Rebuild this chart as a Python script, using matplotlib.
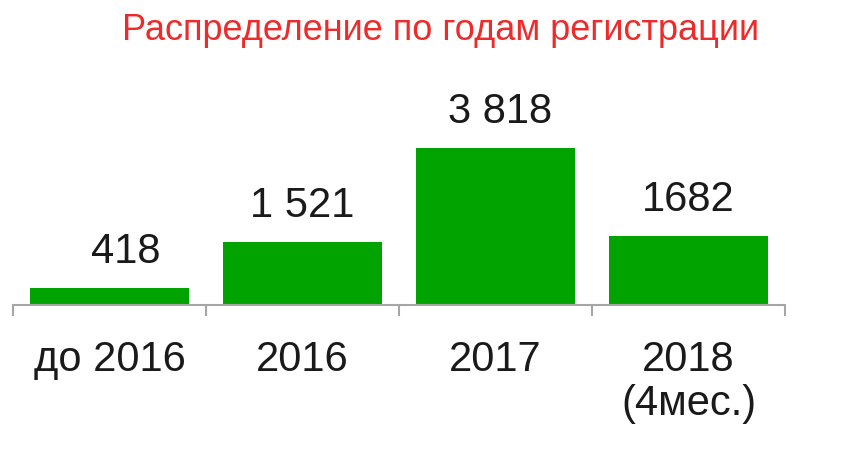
import matplotlib.pyplot as plt

categories = ["до 2016", "2016", "2017", "2018\n(4мес.)"]
values = [418, 1521, 3818, 1682]
value_labels = ["418", "1 521", "3 818", "1682"]

plt.rcParams["font.family"] = ["Liberation Sans", "DejaVu Sans"]

fig = plt.figure(figsize=(8.5, 4.61), dpi=100)
ax = fig.add_axes([13 / 850, 1 - 305 / 461, 772 / 850, 206 / 461])

x = range(len(categories))
bars = ax.bar(x, values, width=0.82, color="#00A300", edgecolor="none")

# the first label sits a bit right of its bar in the original
label_dx = [12, 0, 3, 0]
for b, lab, dx in zip(bars, value_labels, label_dx):
    ax.annotate(lab, (b.get_x() + b.get_width() / 2, b.get_height()),
                xytext=(dx, 18), textcoords="offset points",
                ha="center", va="baseline", fontsize=30, color="#1a1a1a")

ax.set_xlim(-0.5, 3.5)
ax.set_ylim(0, 5000)
ax.set_yticks([])
for s in ["top", "right", "left"]:
    ax.spines[s].set_visible(False)
ax.spines["bottom"].set_color("#a6a6a6")
ax.spines["bottom"].set_linewidth(1.5)

# ticks at category boundaries
ax.set_xticks([-0.5, 0.5, 1.5, 2.5, 3.5])
ax.set_xticklabels([])
ax.tick_params(axis="x", length=8, width=1.5, color="#a6a6a6")
ax.set_xticks(list(x), minor=True)
ax.set_xticklabels(categories, minor=True, fontsize=30, color="#1a1a1a",
                   linespacing=1.15, va="top")
ax.tick_params(axis="x", which="minor", length=0, pad=25)

fig.text(441 / 850, 1 - 31 / 461, "Распределение по годам регистрации",
         ha="center", va="center", fontsize=26, color="#EE2A2A")

fig.savefig("out.png", dpi=100, facecolor="white")
